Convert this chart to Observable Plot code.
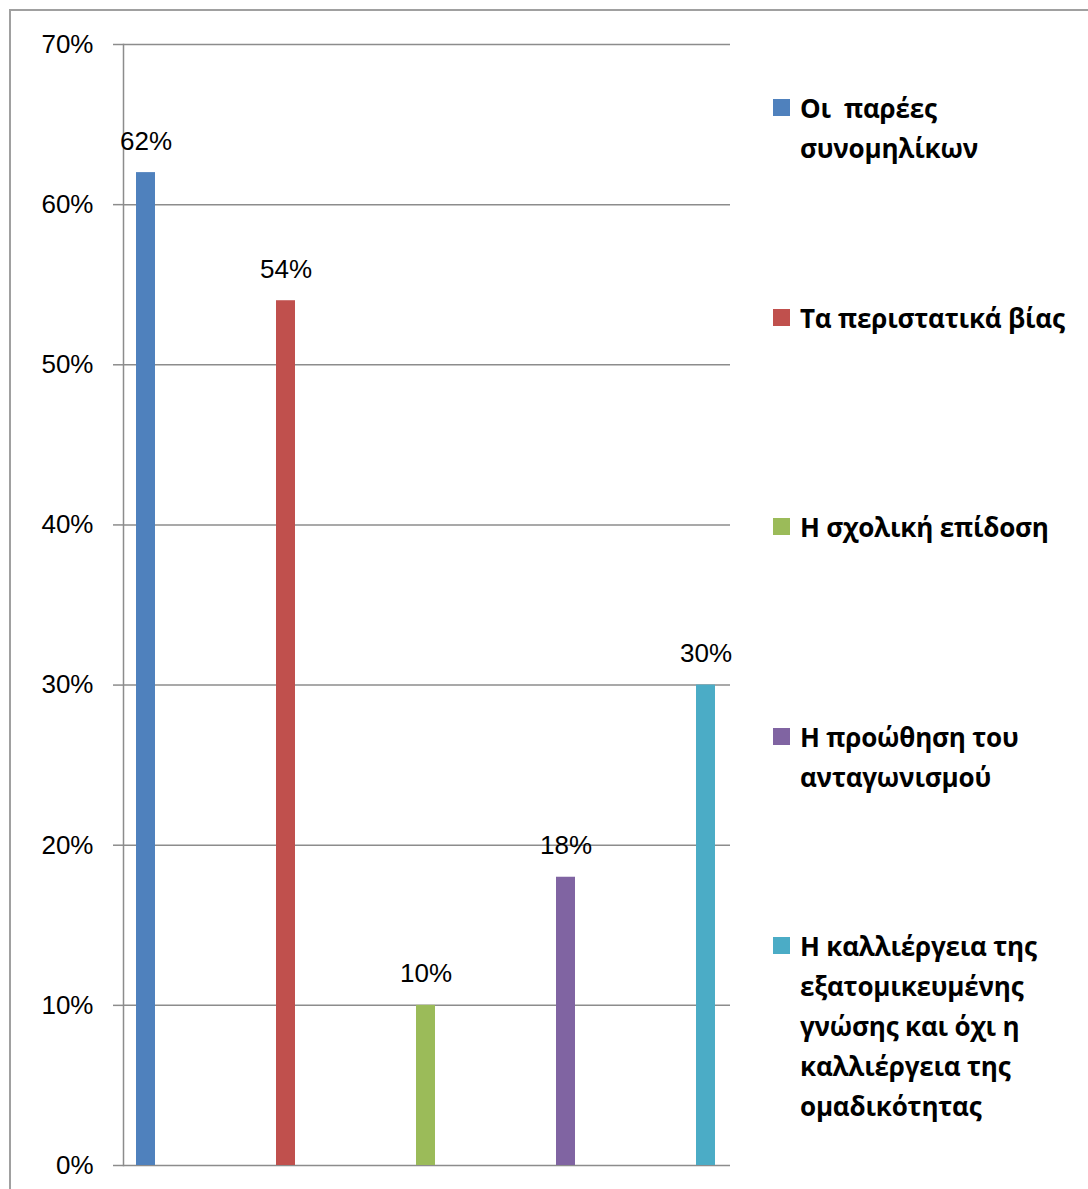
<!DOCTYPE html>
<html>
<head>
<meta charset="utf-8">
<script src="https://cdn.jsdelivr.net/npm/d3@7"></script>
<script src="https://cdn.jsdelivr.net/npm/@observablehq/plot@0.6"></script>
<style>
  html, body { margin: 0; padding: 0; background: #fff; overflow: hidden; }
  #wrap { position: relative; width: 1088px; height: 1189px; overflow: hidden; }
  #border { position: absolute; left: 9px; top: 9px; width: 2000px; height: 2000px; border-left: 2px solid #a0a0a0; border-top: 2px solid #a0a0a0; }
  #chart { position: absolute; left: 0; top: 0; }
  #legend { position: absolute; left: 773px; top: 88px; width: 315px; font-family: "Open Sans", "Noto Sans", sans-serif; font-weight: 700; font-size: 26px; line-height: 40px; color: #000; letter-spacing: -0.2px; }
  .item { position: relative; height: 209.5px; padding-left: 27px; box-sizing: border-box; }
  .sw { position: absolute; left: 0; top: 11px; width: 17px; height: 17px; }
</style>
</head>
<body>
<div id="wrap">
  <div id="border"></div>
  <div id="chart"></div>
  <div id="legend"></div>
</div>
<script>
const categories = [
  "Οι  παρέες συνομηλίκων",
  "Τα περιστατικά βίας",
  "Η σχολική επίδοση",
  "Η προώθηση του ανταγωνισμού",
  "Η καλλιέργεια της εξατομικευμένης γνώσης και όχι η καλλιέργεια της ομαδικότητας"
];
const legendLines = [
  ["Οι  παρέες", "συνομηλίκων"],
  ["Τα περιστατικά βίας"],
  ["Η σχολική επίδοση"],
  ["Η προώθηση του", "ανταγωνισμού"],
  ["Η καλλιέργεια της", "εξατομικευμένης", "γνώσης και όχι η", "καλλιέργεια της", "ομαδικότητας"]
];
const values = [0.62, 0.54, 0.10, 0.18, 0.30];
const colors = ["#4F81BD", "#C0504D", "#9BBB59", "#8064A2", "#4BACC6"];
const yTicks = [0, 0.1, 0.2, 0.3, 0.4, 0.5, 0.6, 0.7];

const data = categories.map((c, i) => ({cat: c, value: values[i]}));
const pct = d3.format(".0%");
const gridColor = "#8c8c8c";

const chart = Plot.plot({
  width: 1088,
  height: 1189,
  marginLeft: 123,
  marginRight: 358,
  marginTop: 44,
  marginBottom: 24,
  style: {fontFamily: "'Liberation Sans', Arial, sans-serif", background: "transparent"},
  x: {type: "band", domain: categories, range: [76, 776], paddingInner: 0.864, paddingOuter: 0.432, axis: null},
  y: {domain: [0, 0.7], axis: null},
  color: {domain: categories, range: colors},
  marks: [
    Plot.ruleY(yTicks, {stroke: gridColor, strokeWidth: 1.5}),
    Plot.axisY({ticks: yTicks, tickSize: 10, tickPadding: 20, tickFormat: pct, fontSize: 26, stroke: gridColor, strokeWidth: 1.5, color: "#000", label: null}),
    Plot.frame({anchor: "left", stroke: gridColor, strokeWidth: 1.5}),
    Plot.barY(data, {x: "cat", y: "value", fill: "cat"}),
    Plot.text(data, {x: "cat", y: "value", text: d => pct(d.value), dy: -23, lineAnchor: "bottom", fontSize: 26, fill: "#000"})
  ]
});
document.getElementById("chart").appendChild(chart);

const legend = document.getElementById("legend");
legendLines.forEach((lines, i) => {
  const item = document.createElement("div");
  item.className = "item";
  const sw = document.createElement("div");
  sw.className = "sw";
  sw.style.background = colors[i];
  item.appendChild(sw);
  lines.forEach(l => {
    const t = document.createElement("div");
    t.textContent = l;
    t.style.whiteSpace = "pre";
    item.appendChild(t);
  });
  legend.appendChild(item);
});
</script>
</body>
</html>
